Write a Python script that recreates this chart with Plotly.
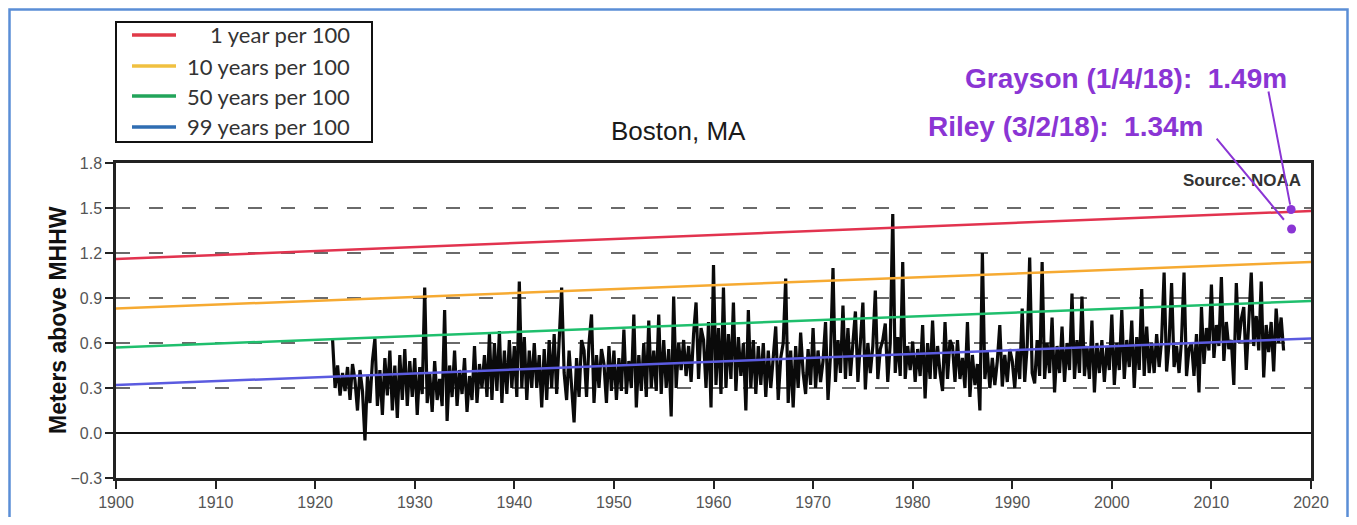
import numpy as np
import plotly.graph_objects as go

# ---------------- data ----------------
# Monthly-extreme water level at Boston, sampled quarterly (m above MHHW)
wl_start = 1921.75
wl_step = 0.25
wl_1920s = [0.62,
            0.30, 0.45, 0.25, 0.40,
            0.28, 0.44, 0.22, 0.46,
            0.35, 0.15, 0.42, 0.28,
            -0.05, 0.38, 0.20, 0.48,
            0.63, 0.18, 0.42, 0.12,
            0.50, 0.25, 0.55, 0.15,
            0.45, 0.10, 0.52, 0.22,
            0.56, 0.18, 0.48, 0.24]
wl_1930s = [0.50, 0.12, 0.44, 0.26,
            0.97, 0.20, 0.40, 0.14,
            0.48, 0.22, 0.36, 0.18,
            0.82, 0.08, 0.45, 0.24,
            0.55, 0.18, 0.42, 0.26,
            0.50, 0.14, 0.38, 0.22,
            0.58, 0.20, 0.46, 0.30,
            0.52, 0.24, 0.66, 0.22,
            0.60, 0.28, 0.68, 0.20,
            0.55, 0.26, 0.62, 0.30]
wl_1940s = [0.58, 0.24, 1.01, 0.30,
            0.64, 0.22, 0.55, 0.30,
            0.60, 0.30, 0.52, 0.17,
            0.56, 0.22, 0.62, 0.30,
            0.66, 0.26, 0.58, 0.97,
            0.40, 0.22, 0.55, 0.30,
            0.07, 0.50, 0.24, 0.62,
            0.55, 0.24, 0.60, 0.79,
            0.20, 0.52, 0.30, 0.56,
            0.46, 0.20, 0.58, 0.28]
wl_1950s = [0.55, 0.22, 0.50, 0.28,
            0.69, 0.26, 0.48, 0.30,
            0.79, 0.17, 0.52, 0.28,
            0.60, 0.24, 0.75, 0.30,
            0.55, 0.28, 0.79, 0.26,
            0.62, 0.30, 0.56, 0.11,
            0.91, 0.30, 0.60, 0.42,
            0.62, 0.38, 0.58, 0.34,
            0.66, 0.87, 0.36, 0.70,
            0.62, 0.30, 0.74, 0.17]
wl_1960s = [1.12, 0.32, 0.70, 0.26,
            0.97, 0.30, 0.66, 0.36,
            0.87, 0.28, 0.64, 0.38,
            0.60, 0.15, 0.82, 0.30,
            0.62, 0.26, 0.58, 0.32,
            0.60, 0.24, 0.55, 0.30,
            0.52, 0.71, 0.22, 0.50,
            0.60, 1.03, 0.20, 0.55,
            0.17, 0.58, 0.30, 0.67,
            0.40, 0.26, 0.56, 0.32]
wl_1970s = [0.70, 0.30, 0.55, 0.34,
            0.48, 0.74, 0.22, 0.52,
            1.10, 0.34, 0.62, 0.40,
            0.85, 0.36, 0.70, 0.38,
            0.60, 0.81, 0.34, 0.62,
            0.87, 0.29, 0.60, 0.40,
            0.58, 0.95, 0.36, 0.56,
            0.62, 0.73, 0.34, 0.60,
            1.46, 0.40, 0.64, 0.38,
            1.14, 0.36, 0.58, 0.42]
wl_1980s = [0.61, 0.34, 0.56, 0.38,
            0.72, 0.23, 0.60, 0.36,
            0.75, 0.36, 0.58, 0.40,
            0.28, 0.74, 0.36, 0.62,
            0.58, 0.34, 0.62, 0.36,
            0.50, 0.30, 0.74, 0.24,
            0.52, 0.32, 0.46, 0.15,
            1.20, 0.36, 0.54, 0.30,
            0.50, 0.32, 0.48, 0.72,
            0.31, 0.52, 0.34, 0.56]
wl_1990s = [0.48, 0.30, 0.55, 0.36,
            0.83, 0.34, 0.58, 1.17,
            0.40, 0.33, 0.62, 0.38,
            1.14, 0.36, 0.60, 0.40,
            0.77, 0.27, 0.58, 0.40,
            0.71, 0.34, 0.60, 0.42,
            0.93, 0.36, 0.62, 0.40,
            0.91, 0.38, 0.58, 0.36,
            0.75, 0.27, 0.60, 0.40,
            0.62, 0.34, 0.58, 0.42]
wl_2000s = [0.79, 0.32, 0.60, 0.42,
            0.82, 0.36, 0.62, 0.44,
            0.75, 0.30, 0.64, 0.42,
            0.96, 0.38, 0.71, 0.40,
            0.60, 0.40, 0.66, 0.44,
            0.62, 1.07, 0.41, 0.60,
            1.00, 0.44, 0.58, 0.40,
            0.62, 1.07, 0.38, 0.56,
            0.60, 0.38, 0.66, 0.27,
            0.84, 0.46, 0.70, 0.55]
wl_2010s = [0.99, 0.50, 0.72, 0.58,
            1.04, 0.48, 0.74, 0.56,
            0.62, 0.32, 1.00, 0.60,
            0.76, 0.84, 0.42, 0.74,
            1.07, 0.58, 0.78, 0.55,
            1.01, 0.37, 0.72, 0.54,
            0.74, 0.41, 0.83, 0.60,
            0.77, 0.55]

# Exceedance-probability trend lines (endpoints 1900 and 2020)
trend_years = [1900, 2020]
trend_1yr = [1.16, 1.48]
trend_10yr = [0.83, 1.14]
trend_50yr = [0.57, 0.88]
trend_99yr = [0.32, 0.63]

# 2018 storms
storm_names = ["Grayson (1/4/18):  1.49m", "Riley (3/2/18):  1.34m"]
storm_years = [2018.0, 2018.05]
storm_levels = [1.49, 1.36]

legend_labels = ["1 year per 100", "10 years per 100",
                 "50 years per 100", "99 years per 100"]

x_ticks = list(range(1900, 2021, 10))
y_ticks = [-0.3, 0.0, 0.3, 0.6, 0.9, 1.2, 1.5, 1.8]
dashed_levels = [0.3, 0.6, 0.9, 1.2, 1.5]

# ---------------- layout helpers ----------------
W, H = 1341, 509                  # page adds an 8px body margin
ML, MR, MT, MB = 108, 38, 155, 39
PW, PH = W - ML - MR, H - MT - MB


def px(xs):   # screen x -> paper x
    return (xs - 8 - ML) / PW


def py(ys):   # screen y -> paper y
    return (H - MB - (ys - 8)) / PH


# ---------------- figure ----------------
wl = np.array(wl_1920s + wl_1930s + wl_1940s + wl_1950s + wl_1960s +
              wl_1970s + wl_1980s + wl_1990s + wl_2000s + wl_2010s)
wl_x = wl_start + wl_step * np.arange(len(wl))

PURPLE = "#8a35d4"
fig = go.Figure()

fig.add_trace(go.Scatter(x=wl_x, y=wl, mode="lines",
                         line=dict(color="#0a0a0a", width=3.2),
                         showlegend=False, hoverinfo="skip"))

plot_colors = ["#e2334f", "#f6aa32", "#1fbf6d", "#5b5be0"]
legend_colors = ["#e03a48", "#f0c040", "#22a45a", "#2f6db2"]
for yv, c in zip([trend_1yr, trend_10yr, trend_50yr, trend_99yr], plot_colors):
    fig.add_trace(go.Scatter(x=trend_years, y=yv, mode="lines",
                             line=dict(color=c, width=2.5),
                             showlegend=False, hoverinfo="skip"))

fig.add_trace(go.Scatter(x=storm_years, y=storm_levels, mode="markers",
                         marker=dict(color=PURPLE, size=9),
                         showlegend=False, hoverinfo="skip"))

shapes = []
for lv in dashed_levels:
    shapes.append(dict(type="line", xref="x", yref="y", x0=1900, x1=2020,
                       y0=lv, y1=lv, layer="below",
                       line=dict(color="#6a6a6a", width=2, dash="14px,19px")))
# outer blue frame (its bottom edge falls outside the page, as in the reference)
shapes.append(dict(type="rect", xref="paper", yref="paper",
                   x0=px(9.5), x1=px(1347.5), y0=py(560), y1=py(9.5),
                   line=dict(color="#5b8ed6", width=2.5), layer="above"))

# hand-drawn legend box (placed like the reference)
shapes.append(dict(type="rect", xref="paper", yref="paper",
                   x0=px(116), x1=px(372), y0=py(142), y1=py(22),
                   line=dict(color="#111111", width=2), fillcolor="white",
                   layer="above"))
annotations = []
item_y = [35, 66, 96, 127]
for lab, c, yy in zip(legend_labels, legend_colors, item_y):
    shapes.append(dict(type="line", xref="paper", yref="paper",
                       x0=px(132), x1=px(176), y0=py(yy), y1=py(yy),
                       line=dict(color=c, width=3.5), layer="above"))
    annotations.append(dict(text=lab, xref="paper", yref="paper",
                            x=px(352), y=py(yy), showarrow=False,
                            xanchor="right", yanchor="middle",
                            font=dict(family="Lato, Carlito, sans-serif",
                                      size=22, color="#333333")))

annotations += [
    dict(text="Boston, MA", xref="paper", yref="paper", x=px(678.5), y=py(131),
         showarrow=False, xanchor="center", yanchor="middle",
         font=dict(family="Liberation Sans, Arial", size=26, color="#1a1a1a")),
    dict(text="<b>Source: NOAA</b>", xref="paper", yref="paper", x=px(1303), y=py(180),
         showarrow=False, xanchor="right", yanchor="middle",
         font=dict(family="Liberation Sans, Arial", size=17, color="#333333")),
    dict(text="<b>" + storm_names[0] + "</b>", xref="paper", yref="paper",
         x=px(1125.5), y=py(78), showarrow=False, xanchor="center", yanchor="middle",
         font=dict(family="Liberation Sans, Arial", size=28, color=PURPLE)),
    dict(text="<b>" + storm_names[1] + "</b>", xref="paper", yref="paper",
         x=px(1065.5), y=py(127), showarrow=False, xanchor="center", yanchor="middle",
         font=dict(family="Liberation Sans, Arial", size=28, color=PURPLE)),
    dict(text="", x=storm_years[0], y=storm_levels[0], xref="x", yref="y",
         ax=2015.7, ay=2.287, axref="x", ayref="y", showarrow=True,
         arrowhead=0, arrowwidth=2, arrowcolor=PURPLE, standoff=5),
    dict(text="", x=storm_years[1], y=storm_levels[1], xref="x", yref="y",
         ax=2010.4, ay=1.973, axref="x", ayref="y", showarrow=True,
         arrowhead=0, arrowwidth=2, arrowcolor=PURPLE, standoff=12),
    dict(text="<b>Meters above MHHW</b>", xref="paper", yref="paper",
         x=px(58), y=py(320), textangle=-90, showarrow=False,
         xanchor="center", yanchor="middle",
         font=dict(family="Liberation Sans, Arial", size=23, color="#111111")),
]

fig.update_layout(
    width=W, height=H,
    margin=dict(l=ML, r=MR, t=MT, b=MB, autoexpand=False),
    paper_bgcolor="white", plot_bgcolor="white",
    shapes=shapes, annotations=annotations,
    showlegend=False,
    xaxis=dict(range=[1900, 2020], tickvals=x_ticks, ticks="outside", ticklen=8,
               tickwidth=2, tickcolor="#222", showline=True, linecolor="#222",
               linewidth=2.5, mirror=True, showgrid=False, zeroline=False,
               automargin=False,
               tickfont=dict(family="Liberation Sans, Arial", size=16, color="#555555")),
    yaxis=dict(range=[-0.3, 1.8], tickvals=y_ticks, tickformat=".1f",
               ticks="outside", ticklen=8, tickwidth=2, tickcolor="#222",
               showline=True, linecolor="#222", linewidth=2.5, mirror=True,
               showgrid=False, zeroline=True, zerolinecolor="#111111",
               zerolinewidth=2, automargin=False,
               tickfont=dict(family="Liberation Sans, Arial", size=16, color="#555555")),
)

fig.write_html("out.html")
